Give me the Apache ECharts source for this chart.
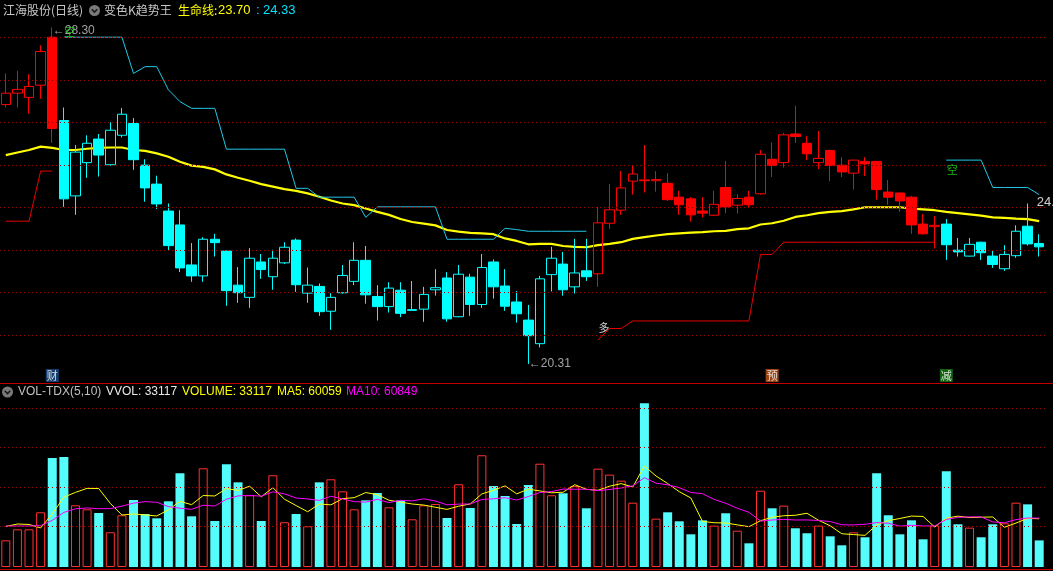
<!DOCTYPE html>
<html><head><meta charset="utf-8">
<script src="https://cdn.jsdelivr.net/npm/echarts@6/dist/echarts.min.js"></script>
<style>html,body{margin:0;padding:0;background:#000;overflow:hidden}#c{width:1053px;height:571px}</style>
</head><body><div id="c"></div>
<script>
const stockName = '江海股份(日线)';
const indicatorName = '变色K趋势王';
const lifeName = '生命线';

const openP = [26.47,26.74,26.64,26.93,28.07,26.09,24.30,25.09,25.65,25.04,
25.74,26.02,25.03,24.58,23.94,23.61,22.66,22.40,23.27,22.99,
22.18,21.89,22.73,22.38,22.71,23.25,21.99,22.15,21.56,22.00,
22.27,22.77,21.91,21.67,22.06,21.58,21.61,22.07,22.35,21.43,
22.37,21.72,22.73,22.16,21.78,21.35,20.79,22.43,22.68,22.14,
22.52,22.45,23.65,23.96,24.65,24.68,24.66,24.60,24.27,24.23,
23.94,23.84,24.50,24.08,24.27,24.35,25.17,25.09,25.77,25.55,
25.09,25.38,25.03,24.84,25.12,25.12,24.39,24.37,24.27,23.63,
23.57,23.63,23.01,22.87,23.20,22.87,22.57,22.88,23.58,23.17];
const closeP = [26.74,26.83,26.90,27.73,25.90,24.23,25.34,25.55,25.27,25.86,
26.24,25.16,24.49,24.11,23.12,22.59,22.40,23.27,23.19,22.05,
22.00,22.82,22.55,22.82,23.08,22.19,22.18,21.55,21.89,22.41,
22.77,21.95,21.67,22.11,21.51,21.60,21.96,22.12,21.38,22.44,
21.72,22.60,22.14,21.68,21.50,20.98,22.33,22.82,22.07,22.47,
22.38,23.66,23.97,24.49,24.82,24.66,24.69,24.21,24.09,23.85,
23.89,24.10,24.04,24.24,24.09,25.29,25.02,25.75,25.71,25.30,
25.19,25.02,24.87,25.15,25.06,24.45,24.27,24.18,23.61,23.40,
23.60,23.14,22.97,23.15,22.95,22.67,22.91,23.46,23.16,23.09];
const lowP = [26.40,26.40,26.25,26.61,25.56,24.04,23.85,24.73,24.76,25.02,
25.69,24.92,24.16,23.99,23.01,22.49,22.26,22.26,22.86,21.69,
21.76,21.64,22.33,22.07,22.68,22.02,21.76,21.45,21.12,21.98,
22.18,21.74,21.34,21.53,21.42,21.57,21.31,21.93,21.31,21.42,
21.45,21.64,21.86,21.57,21.29,20.31,20.70,22.03,21.93,21.98,
22.28,22.14,23.52,23.85,24.33,24.38,24.40,24.18,23.85,23.69,
23.79,23.82,23.89,23.88,24.03,24.33,24.75,24.97,25.56,25.15,
24.94,24.65,24.75,24.45,24.77,24.21,24.09,23.92,23.40,23.38,
23.05,22.78,22.86,22.86,22.78,22.59,22.52,22.83,23.12,22.86];
const highP = [27.21,27.27,27.19,27.88,28.30,26.40,25.51,25.74,25.77,26.05,
26.39,26.15,25.17,24.78,24.12,23.96,23.18,23.32,23.40,23.00,
22.61,23.06,22.92,23.02,23.20,23.29,22.60,22.22,21.99,22.66,
23.20,23.11,22.18,22.25,22.25,22.28,22.14,22.56,22.49,22.66,
22.45,22.92,22.79,22.56,22.04,21.71,22.40,23.09,22.97,23.28,
23.28,24.04,24.58,24.89,25.03,25.51,24.89,24.84,24.42,24.27,
24.27,24.42,25.13,24.34,24.42,25.39,25.57,25.80,26.44,25.72,
25.84,25.40,25.22,25.16,25.22,25.13,24.68,24.38,24.30,23.87,
23.82,23.75,23.30,23.30,23.21,23.01,23.13,23.60,24.12,23.39];
// 1 = red trend, 0 = cyan trend
const trend = [1,1,1,1,1,0,0,0,0,0,
0,0,0,0,0,0,0,0,0,0,
0,0,0,0,0,0,0,0,0,0,
0,0,0,0,0,0,0,0,0,0,
0,0,0,0,0,0,0,0,0,0,
0,1,1,1,1,1,1,1,1,1,
1,1,1,1,1,1,1,1,1,1,
1,1,1,1,1,1,1,1,1,1,
1,0,0,0,0,0,0,0,0,0];
const lifeLine = [25.27,25.33,25.39,25.47,25.44,25.39,25.39,25.42,25.44,25.45,
25.45,25.39,25.37,25.31,25.23,25.11,25.02,24.99,24.93,24.81,
24.73,24.66,24.58,24.52,24.46,24.42,24.36,24.28,24.19,24.12,
24.08,24.00,23.92,23.85,23.75,23.68,23.64,23.60,23.49,23.45,
23.42,23.41,23.39,23.29,23.23,23.15,23.16,23.16,23.11,23.09,
23.08,23.13,23.16,23.20,23.28,23.32,23.36,23.39,23.41,23.43,
23.44,23.46,23.47,23.51,23.53,23.62,23.65,23.71,23.80,23.84,
23.89,23.92,23.94,23.98,24.03,24.03,24.03,24.03,24.00,23.98,
23.96,23.92,23.89,23.86,23.83,23.79,23.78,23.76,23.75,23.70];
const stopShort = [null,null,null,null,null,28.07,28.07,28.07,28.07,28.07,
28.07,27.21,27.37,27.37,26.82,26.54,26.38,26.38,26.38,25.41,
25.41,25.41,25.41,25.41,25.41,24.48,24.48,24.27,24.27,24.27,
24.27,23.79,24.04,24.04,24.04,24.04,24.04,24.04,23.27,23.27,
23.27,23.27,23.27,23.53,23.50,23.46,23.46,23.46,23.46,23.46,
23.46,null,null,null,null,null,null,null,null,null,
null,null,null,null,null,null,null,null,null,null,
null,null,null,null,null,null,null,null,null,null,
null,25.15,25.15,25.15,25.15,24.50,24.50,24.50,24.50,24.33];
const stopLong = [23.70,23.70,23.70,24.89,24.89,null,null,null,null,null,
null,null,null,null,null,null,null,null,null,null,
null,null,null,null,null,null,null,null,null,null,
null,null,null,null,null,null,null,null,null,null,
null,null,null,null,null,null,null,null,null,null,
null,20.88,21.15,21.15,21.33,21.33,21.33,21.33,21.33,21.33,
21.33,21.33,21.33,21.33,21.33,22.91,22.91,23.20,23.20,23.20,
23.20,23.20,23.20,23.20,23.20,23.20,23.20,23.20,23.20,23.20,
23.20,null,null,null,null,null,null,null,null,null];
const volume = [33200,46900,46900,68100,135700,137000,76800,71800,67200,43200,
64400,83400,66000,60600,81800,116700,63100,122900,57300,127900,
105400,89300,57300,114200,55700,66000,50700,105400,109200,94200,
71800,83000,92100,74300,83000,59400,76800,78400,61000,103000,
73500,139100,100800,88400,53500,102100,128600,89300,91800,100800,
73100,122400,115000,107500,80100,203800,60200,68100,56900,40700,
58100,51500,66900,45200,29500,95000,73100,76400,48200,42000,
51500,38200,27000,43200,37000,116700,64400,40700,58100,34500,
51500,119100,53200,49000,37000,53200,54400,80100,78000,33117];
const volMA5 = [50500,53500,53000,48600,66200,86900,92900,97900,97700,79200,
64700,66000,64800,63500,71200,81700,77600,89000,88400,97600,
95300,100600,87400,98800,84400,76500,68800,78400,77400,85100,
86300,92700,90100,83100,80800,78400,77100,74400,71700,75700,
78500,91000,95500,101000,91100,96800,94700,92400,93100,102500,
96700,95500,100600,103800,99600,125800,113300,103900,93800,85900,
56800,55100,54800,52500,50200,57600,61900,63800,64400,66900,
58200,51300,41400,40400,39400,52400,57700,60400,63400,62900,
49800,60800,63300,61500,62000,62300,49400,54700,60500,60059];
const volMA10 = [51000,51000,51000,51500,58000,68000,72500,73500,72600,72700,
75800,79500,81400,80600,75200,73200,71800,76900,75900,84400,
88500,89100,88200,93600,91000,85900,84700,82900,88100,84700,
81400,80800,84200,80200,83000,82300,84900,82200,77400,78300,
78500,84100,84900,86300,83400,87700,92800,93900,97000,96800,
96800,95100,96500,98400,101100,111200,104400,102300,98800,92800,
91300,84200,79400,73200,68100,57200,58500,59300,58500,58600,
57900,56600,52600,52400,53200,55300,54500,50900,51900,51100,
51100,59200,61800,62400,62400,56100,55100,59000,61000,60849];
const priceGrid = [28.07,27.05,26.05,25.03,24.03,23.01,22.01,20.99];
const volGrid = [50300,98900,148700,197200];
const signals = [{i:5,t:'空',p:28.19},{i:51,t:'多',p:21.17},{i:81,t:'空',p:24.93}];
const events = [{i:4,t:'财'},{i:66,t:'预'},{i:81,t:'减'}];

const N = openP.length;
const days = openP.map((_, i) => String(i + 1));
const isUp = openP.map((o, i) => closeP[i] > o);
const ohlc = i => [openP[i], closeP[i], lowP[i], highP[i]];
const redK = days.map((_, i) => trend[i] === 1 ? ohlc(i) : '-');
const cyanK = days.map((_, i) => trend[i] === 0 ? ohlc(i) : '-');
const nz = a => a.map(v => v === null ? '-' : v);

let hiIdx = 0, loIdx = 0;
highP.forEach((v, i) => { if (v > highP[hiIdx]) hiIdx = i; });
lowP.forEach((v, i) => { if (v < lowP[loIdx]) loIdx = i; });

const RED = '#ff0000', CYAN = '#00ffff';
const volData = volume.map((v, i) => ({
  value: v,
  itemStyle: isUp[i] ? {color: 'rgba(0,0,0,0)', borderColor: '#ff3232', borderWidth: 1}
                     : {color: '#54fcfc', borderWidth: 0}
}));

const yMin = 19.9271, yMax = 28.5257;
const evPrice = 20.034;
const lblFont = '"Liberation Sans", Arial, sans-serif';
const cjkFont = '"Noto Sans CJK SC", sans-serif';
const clear = {color: 'rgba(0,0,0,0)'};

// annotation points: extreme labels, signals, event boxes, right edge value
const lastShort = stopShort[N - 1];
const annData = [];
annData.push({value: [hiIdx, highP[hiIdx]], symbolSize: 1, itemStyle: clear,
  label: {show: true, position: 'right', distance: 0, offset: [0, 3], formatter: '←' + highP[hiIdx].toFixed(2),
    color: '#c8c8c8', fontSize: 12, fontFamily: lblFont}});
annData.push({value: [loIdx, lowP[loIdx]], symbolSize: 1, itemStyle: clear,
  label: {show: true, position: 'right', distance: 0, offset: [0, 0], formatter: '←' + lowP[loIdx].toFixed(2),
    color: '#c8c8c8', fontSize: 12, fontFamily: lblFont}});
signals.forEach(s => annData.push({value: [s.i, s.p], symbolSize: 1, itemStyle: clear,
  label: {show: true, position: 'right', distance: 0, offset: [0, 0], formatter: s.t,
    color: s.t === '多' ? '#ffffff' : '#1ee61e', fontSize: 11, fontFamily: cjkFont}}));
const evColors = {'财': '#1c4f8c', '预': '#c0561c', '减': '#177a17'};
events.forEach(e => annData.push({value: [e.i, evPrice], symbol: 'rect', symbolSize: [13, 13],
  itemStyle: {color: evColors[e.t]},
  label: {show: true, position: 'inside', formatter: e.t, color: '#ffffff', fontSize: 11, fontFamily: cjkFont}}));
annData.push({value: [N - 1, lastShort], symbolSize: 1, itemStyle: clear,
  label: {show: true, position: 'right', distance: 0, offset: [-3, 8], formatter: lastShort.toFixed(2),
    color: '#ffffff', fontSize: 13, fontFamily: lblFont}});

const gridLineStyle = {type: [1, 3], color: '#a00000', width: 1};

const chart = echarts.init(document.getElementById('c'), null, {renderer: 'canvas'});
const txt = (x, y, text, fill, size, fam) => ({type: 'text', x: x, y: y, silent: true,
  style: {text: text, fill: fill, font: size + 'px ' + fam, verticalAlign: 'middle', align: 'left'}});
const icon = (cx, cy) => ({type: 'group', children: [
  {type: 'circle', shape: {cx: cx, cy: cy, r: 5.5}, style: {fill: '#7a7a7a'}},
  {type: 'polyline', shape: {points: [[cx - 2.8, cy - 1.2], [cx, cy + 1.6], [cx + 2.8, cy - 1.2]]},
   style: {stroke: '#1a1a1a', lineWidth: 1.6, fill: null}}]});

chart.setOption({
  backgroundColor: '#000',
  animation: false,
  grid: [
    {left: -1, right: 8, top: 18, bottom: 191},
    {left: -1, right: 8, top: 398, bottom: 4}
  ],
  xAxis: [
    {type: 'category', data: days, gridIndex: 0, boundaryGap: true, show: false},
    {type: 'category', data: days, gridIndex: 1, boundaryGap: true, show: false}
  ],
  yAxis: [
    {type: 'value', gridIndex: 0, min: yMin, max: yMax, show: false, splitLine: {show: false}},
    {type: 'value', gridIndex: 1, min: 0, max: 210400, show: false, splitLine: {show: false}}
  ],
  graphic: [
    {type: 'line', silent: true, shape: {x1: 0, y1: 383.5, x2: 1053, y2: 383.5}, style: {stroke: '#c00000', lineWidth: 1}},
    {type: 'line', silent: true, shape: {x1: 0, y1: 569.5, x2: 1053, y2: 569.5}, style: {stroke: '#c00000', lineWidth: 1}},
    txt(3, 10.5, stockName, '#c8c8c8', 12, cjkFont),
    icon(94.5, 10.5),
    txt(104, 10.5, indicatorName, '#c8c8c8', 12, cjkFont),
    txt(178, 10.5, lifeName + ':', '#ffff00', 12, cjkFont),
    txt(218, 10.5, lifeLine[N - 1].toFixed(2), '#ffff00', 13, lblFont),
    txt(256, 10.5, ':', '#00e0ff', 13, lblFont),
    txt(263, 10.5, lastShort.toFixed(2), '#00e0ff', 13, lblFont),
    icon(7.5, 392),
    txt(18, 392, 'VOL-TDX(5,10)', '#c0c0c0', 12, lblFont),
    txt(106, 392, 'VVOL: ' + volume[N - 1], '#e8e8e8', 12, lblFont),
    txt(182, 392, 'VOLUME: ' + volume[N - 1], '#ffff00', 12, lblFont),
    txt(277, 392, 'MA5: ' + volMA5[N - 1], '#ffff00', 12, lblFont),
    txt(346, 392, 'MA10: ' + volMA10[N - 1], '#ff00ff', 12, lblFont)
  ],
  series: [
    {type: 'line', name: 'life', xAxisIndex: 0, yAxisIndex: 0, data: lifeLine, symbol: 'none', z: 2,
     lineStyle: {color: '#ffff00', width: 2.2},
     markLine: {silent: true, symbol: ['none', 'none'], label: {show: false}, lineStyle: gridLineStyle,
       data: priceGrid.map(v => ({yAxis: v}))}},
    {type: 'line', name: 'short', xAxisIndex: 0, yAxisIndex: 0, data: nz(stopShort), symbol: 'none', z: 2,
     connectNulls: false, lineStyle: {color: '#22c8e8', width: 1}},
    {type: 'line', name: 'long', xAxisIndex: 0, yAxisIndex: 0, data: nz(stopLong), symbol: 'none', z: 2,
     connectNulls: false, lineStyle: {color: '#e80000', width: 1}},
    {type: 'candlestick', name: 'kRed', xAxisIndex: 0, yAxisIndex: 0, data: redK, barWidth: 10, z: 4,
     itemStyle: {color: 'rgba(0,0,0,0)', color0: RED, borderColor: RED, borderColor0: RED, borderWidth: 1}},
    {type: 'candlestick', name: 'kCyan', xAxisIndex: 0, yAxisIndex: 0, data: cyanK, barWidth: 10, z: 4,
     itemStyle: {color: 'rgba(0,0,0,0)', color0: CYAN, borderColor: CYAN, borderColor0: CYAN, borderWidth: 1}},
    {type: 'scatter', name: 'ann', xAxisIndex: 0, yAxisIndex: 0, data: annData, symbol: 'rect', z: 10,
     silent: true, emphasis: {disabled: true}},
    {type: 'bar', name: 'vol', xAxisIndex: 1, yAxisIndex: 1, data: volData, barWidth: 9, z: 2},
    {type: 'line', name: 'ma5', xAxisIndex: 1, yAxisIndex: 1, data: volMA5, symbol: 'none', z: 3,
     lineStyle: {color: '#ffff00', width: 1},
     markLine: {silent: true, symbol: ['none', 'none'], label: {show: false}, lineStyle: gridLineStyle,
       data: volGrid.map(v => ({yAxis: v}))}},
    {type: 'line', name: 'ma10', xAxisIndex: 1, yAxisIndex: 1, data: volMA10, symbol: 'none', z: 3,
     lineStyle: {color: '#ff00ff', width: 1}}
  ]
});
</script>
</body></html>
